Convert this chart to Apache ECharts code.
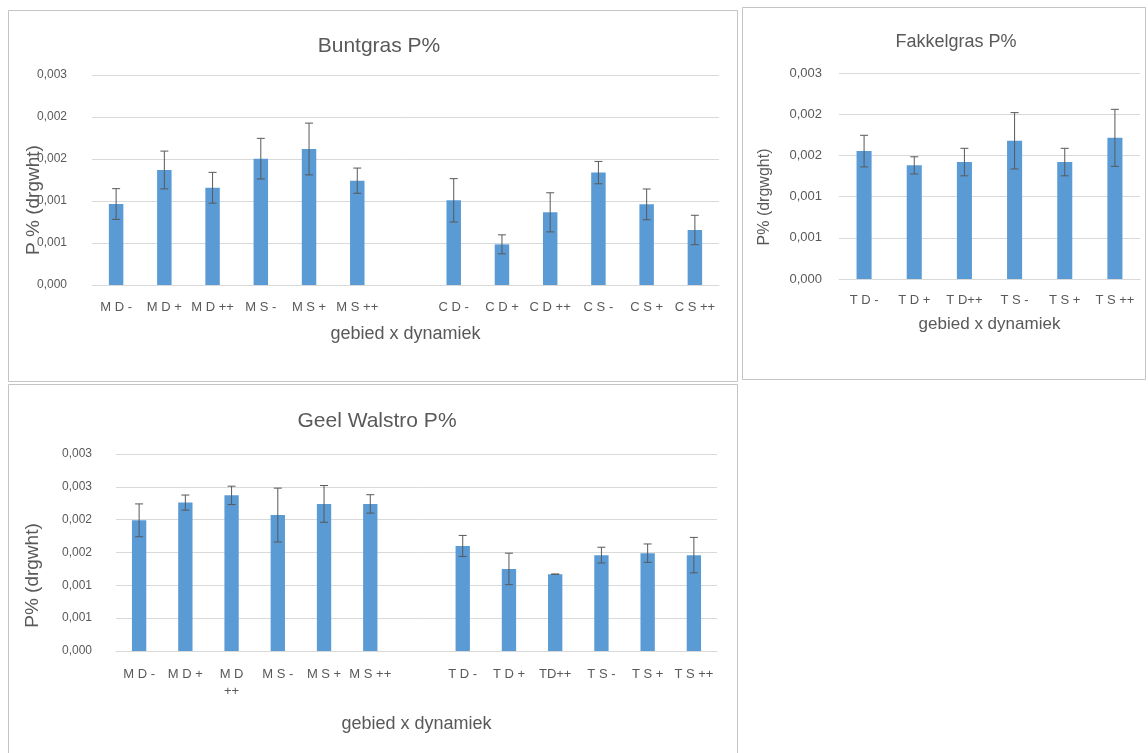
<!DOCTYPE html>
<html>
<head>
<meta charset="utf-8">
<script src="https://cdn.jsdelivr.net/npm/echarts@6/dist/echarts.min.js"></script>
<style>
  html, body { margin: 0; padding: 0; background: #ffffff; }
  #chart { width: 1148px; height: 753px; }
</style>
</head>
<body>
<div id="chart"></div>
<script>
// ---------- data ----------
const yTickLabels = ['0,000', '0,001', '0,001', '0,002', '0,002', '0,003', '0,003'];
const yStep = 0.0005;
const buntMax = 0.0025;
const fakkelMax = 0.0025;
const walstroMax = 0.003;

const buntCategories = ['M D -', 'M D +', 'M D ++', 'M S -', 'M S +', 'M S ++', '', 'C D -', 'C D +', 'C D ++', 'C S -', 'C S +', 'C S ++'];
const buntValues = [0.000964, 0.001369, 0.001158, 0.001504, 0.001619, 0.001242, null, 0.001008, 0.000484, 0.000865, 0.001338, 0.000960, 0.000655];
const buntErrors = [0.000183, 0.000225, 0.000183, 0.000242, 0.000308, 0.000150, null, 0.000258, 0.000113, 0.000233, 0.000133, 0.000183, 0.000175];

const fakkelCategories = ['T D -', 'T D +', 'T D++', 'T S -', 'T S +', 'T S ++'];
const fakkelValues = [0.001552, 0.001379, 0.001419, 0.001677, 0.001419, 0.001713];
const fakkelErrors = [0.000192, 0.000104, 0.000167, 0.000342, 0.000167, 0.000346];

const walstroCategories = ['M D -', 'M D +', 'M D\n++', 'M S -', 'M S +', 'M S ++', '', 'T D -', 'T D +', 'TD++', 'T S -', 'T S +', 'T S ++'];
const walstroValues = [0.00199, 0.00226, 0.00237, 0.00207, 0.00224, 0.00224, null, 0.00160, 0.00125, 0.00117, 0.00146, 0.00149, 0.00146];
const walstroErrors = [0.00025, 0.000115, 0.00014, 0.00041, 0.00028, 0.00014, null, 0.00016, 0.00024, 0, 0.00012, 0.00014, 0.00027];

const titles = ['Buntgras P%', 'Fakkelgras P%', 'Geel Walstro P%'];
const yNames = ['P % (drgwht)', 'P% (drgwght)', 'P% (drgwht)'];
const xName = 'gebied x dynamiek';

// ---------- style ----------
const FONT = 'Liberation Sans';
const TEXT = '#595959';
const BAR = '#5b9bd5';
const GRID = '#d9d9d9';
const ERR = '#595959';

const chart = echarts.init(document.getElementById('chart'), null, { renderer: 'canvas' });

function errData(values, errors) {
  return values.map((v, i) => (v == null ? [i, null, null] : [i, v, errors[i]]));
}

function errSeries(idx, values, errors, half) {
  return {
    type: 'custom',
    xAxisIndex: idx,
    yAxisIndex: idx,
    z: 5,
    silent: true,
    encode: { x: 0, y: 1 },
    data: errData(values, errors),
    renderItem: function (params, api) {
      const v = api.value(1);
      const e = api.value(2);
      if (v == null || isNaN(v)) return null;
      const i = api.value(0);
      const top = api.coord([i, v + e]);
      const bot = api.coord([i, v - e]);
      const st = { stroke: ERR, lineWidth: 1 };
      return {
        type: 'group',
        children: [
          { type: 'line', shape: { x1: top[0], y1: top[1], x2: bot[0], y2: bot[1] }, style: st },
          { type: 'line', shape: { x1: top[0] - half, y1: top[1], x2: top[0] + half, y2: top[1] }, style: st },
          { type: 'line', shape: { x1: bot[0] - half, y1: bot[1], x2: bot[0] + half, y2: bot[1] }, style: st }
        ]
      };
    }
  };
}

function yAxisCfg(idx, max, name, nameSize, nameGap, labelSize, labelMargin, shift) {
  return {
    gridIndex: idx,
    type: 'value',
    min: 0,
    max: max,
    interval: yStep,
    name: name,
    nameLocation: 'middle',
    nameGap: nameGap,
    nameMoveOverlap: false,
    nameTextStyle: { fontFamily: FONT, fontSize: nameSize, color: TEXT, padding: [0, shift * 2, 0, 0] },
    axisLine: { show: false },
    axisTick: { show: false },
    splitLine: { show: true, lineStyle: { color: GRID, width: 1 } },
    axisLabel: {
      fontFamily: FONT, fontSize: labelSize, color: TEXT, margin: labelMargin,
      formatter: function (v) { return yTickLabels[Math.round(v / yStep)]; }
    }
  };
}

function xAxisCfg(idx, cats, nameSize, nameGap, labelSize, labelMargin) {
  return {
    gridIndex: idx,
    type: 'category',
    data: cats,
    name: xName,
    nameLocation: 'middle',
    nameGap: nameGap,
    nameMoveOverlap: false,
    nameTextStyle: { fontFamily: FONT, fontSize: nameSize, color: TEXT },
    axisLine: { show: true, lineStyle: { color: GRID, width: 1 } },
    axisTick: { show: false },
    axisLabel: { fontFamily: FONT, fontSize: labelSize, color: TEXT, margin: labelMargin, interval: 0, lineHeight: 17 }
  };
}

const option = {
  backgroundColor: '#ffffff',
  animation: false,
  graphic: [
    { type: 'rect', shape: { x: 8.5, y: 10.5, width: 729, height: 371 }, style: { fill: 'none', stroke: '#c4c4c4', lineWidth: 1 }, z: -10 },
    { type: 'rect', shape: { x: 742.5, y: 7.5, width: 403, height: 372 }, style: { fill: 'none', stroke: '#c4c4c4', lineWidth: 1 }, z: -10 },
    { type: 'rect', shape: { x: 8.5, y: 384.5, width: 729, height: 380 }, style: { fill: 'none', stroke: '#c4c4c4', lineWidth: 1 }, z: -10 }
  ],
  title: [
    { text: titles[0], left: 374, top: 31, textAlign: 'center', textStyle: { fontFamily: FONT, fontSize: 21, fontWeight: 'normal', color: TEXT } },
    { text: titles[1], left: 951, top: 28, textAlign: 'center', textStyle: { fontFamily: FONT, fontSize: 18, fontWeight: 'normal', color: TEXT } },
    { text: titles[2], left: 372, top: 406, textAlign: 'center', textStyle: { fontFamily: FONT, fontSize: 21, fontWeight: 'normal', color: TEXT } }
  ],
  grid: [
    { left: 92, top: 75, width: 627, height: 210 },
    { left: 839, top: 73, width: 301, height: 206 },
    { left: 116, top: 454, width: 601, height: 197 }
  ],
  xAxis: [
    xAxisCfg(0, buntCategories, 18, 40, 13, 14),
    xAxisCfg(1, fakkelCategories, 17, 37, 13, 13),
    xAxisCfg(2, walstroCategories, 18, 64, 13, 15)
  ],
  yAxis: [
    yAxisCfg(0, buntMax, yNames[0], 19, 49, 12, 25, 20),
    yAxisCfg(1, fakkelMax, yNames[1], 16, 66, 13, 17, 21),
    yAxisCfg(2, walstroMax, yNames[2], 19, 74, 12, 24, 23)
  ],
  series: [
    { type: 'bar', xAxisIndex: 0, yAxisIndex: 0, data: buntValues, barWidth: '30%', itemStyle: { color: BAR } },
    errSeries(0, buntValues, buntErrors, 4),
    { type: 'bar', xAxisIndex: 1, yAxisIndex: 1, data: fakkelValues, barWidth: '30%', itemStyle: { color: BAR } },
    errSeries(1, fakkelValues, fakkelErrors, 4),
    { type: 'bar', xAxisIndex: 2, yAxisIndex: 2, data: walstroValues, barWidth: '31%', itemStyle: { color: BAR } },
    errSeries(2, walstroValues, walstroErrors, 4)
  ]
};

chart.setOption(option);
</script>
</body>
</html>
